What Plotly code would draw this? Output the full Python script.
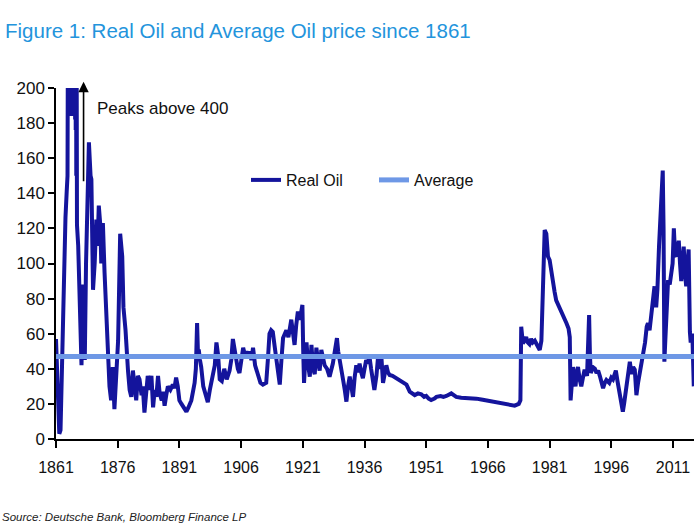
import plotly.graph_objects as go

years = [
    1861.0, 1861.4, 1861.8, 1862.1, 1862.5, 1862.7, 1863.0, 1863.3, 1863.6, 1863.8,
    1863.9, 1863.97, 1864.04, 1864.11, 1864.18, 1864.25, 1864.32, 1864.39, 1864.46, 1864.53,
    1864.6, 1864.67, 1864.74, 1864.81, 1864.88, 1864.95, 1865.02, 1865.09, 1865.16, 1865.23,
    1865.3, 1865.37, 1865.44, 1865.51, 1865.58, 1865.65, 1865.72, 1865.79, 1865.86, 1865.93,
    1866.0, 1866.1, 1866.4, 1866.7,
    1867.0, 1867.2, 1867.6, 1868.0, 1868.3, 1868.5, 1869.0, 1869.4, 1869.6, 1870.0,
    1870.4, 1870.8, 1871.1, 1871.4, 1871.8, 1872.0, 1872.4, 1872.8, 1873.2, 1873.6,
    1874.0, 1874.4, 1874.8, 1875.2, 1875.7, 1876.1, 1876.6, 1877.1, 1877.4, 1877.9,
    1878.5, 1878.9, 1879.3, 1879.7, 1880.1, 1880.5, 1880.9, 1881.3, 1881.8, 1882.1,
    1882.5, 1882.9, 1883.3, 1883.7, 1884.2, 1884.6, 1885.0, 1885.4, 1885.8, 1886.2,
    1886.7, 1887.0, 1887.4, 1887.8, 1888.2, 1888.8, 1889.4, 1889.8, 1890.2, 1890.6,
    1891.0, 1891.5, 1892.0, 1892.7, 1893.2, 1893.9, 1894.3, 1894.7, 1895.0, 1895.3,
    1895.5, 1895.7, 1896.0, 1896.3, 1896.8, 1897.4, 1897.9, 1898.4, 1899.1, 1899.6,
    1900.0, 1900.4, 1900.8, 1901.3, 1901.9, 1902.5, 1903.2, 1903.6, 1904.0, 1904.4,
    1904.8, 1905.2, 1905.6, 1906.0, 1906.5, 1906.9, 1907.3, 1907.7, 1908.1, 1908.5,
    1908.9, 1909.4, 1910.1, 1910.7, 1911.3, 1912.1, 1912.5, 1912.9, 1913.3, 1913.7,
    1914.2, 1914.6, 1915.0, 1915.4, 1915.8, 1916.2, 1917.0, 1917.5, 1918.2, 1918.6,
    1919.0, 1919.4, 1919.8, 1920.3, 1920.9, 1921.1, 1921.3, 1921.6, 1921.9, 1922.3,
    1922.7, 1923.1, 1923.5, 1923.9, 1924.3, 1924.7, 1925.1, 1925.5, 1925.9, 1926.3,
    1926.9, 1927.5, 1928.3, 1928.9, 1929.3, 1929.6, 1929.9, 1930.4, 1930.8, 1931.2,
    1931.6, 1932.0, 1932.4, 1932.8, 1933.2, 1933.6, 1934.0, 1934.4, 1934.8, 1935.2,
    1935.6, 1936.0, 1936.4, 1936.8, 1937.2, 1937.6, 1938.0, 1938.4, 1938.9, 1939.3,
    1939.6, 1940.1, 1940.5, 1940.9, 1941.3, 1941.7, 1942.1, 1942.8, 1943.7, 1944.5,
    1945.3, 1946.2, 1947.0, 1947.6, 1948.2, 1949.0, 1949.8, 1950.5, 1951.0, 1951.6,
    1952.2, 1953.0, 1953.5, 1954.5, 1955.2, 1955.9, 1956.5, 1957.1, 1957.7, 1958.3,
    1959.5, 1960.8, 1962.0, 1963.2, 1964.4, 1965.6, 1966.8, 1968.1, 1969.3, 1970.5,
    1971.5, 1972.5, 1973.5, 1973.9, 1974.1, 1974.5, 1974.9, 1975.3, 1975.7, 1976.1,
    1976.5, 1976.9, 1977.4, 1977.8, 1978.2, 1978.6, 1979.0, 1979.4, 1979.8, 1980.2,
    1980.6, 1981.0, 1981.4, 1981.8, 1982.2, 1982.6, 1983.0, 1983.4, 1983.8, 1984.2,
    1984.6, 1985.1, 1985.6, 1985.9, 1986.1, 1986.4, 1986.7, 1987.0, 1987.3, 1987.6,
    1987.9, 1988.3, 1988.7, 1989.1, 1989.5, 1990.1, 1990.4, 1990.6, 1990.8, 1991.0,
    1991.5, 1992.0, 1992.4, 1992.8, 1993.2, 1993.6, 1994.0, 1994.4, 1994.8, 1995.5,
    1996.0, 1996.4, 1997.1, 1997.5, 1998.0, 1998.4, 1998.8, 1999.1, 1999.5, 2000.0,
    2000.5, 2000.9, 2001.3, 2001.7, 2002.1, 2002.5, 2002.9, 2003.3, 2003.7, 2004.2,
    2004.6, 2004.9, 2005.3, 2005.7, 2006.1, 2006.5, 2006.9, 2007.2, 2007.6, 2008.0,
    2008.5, 2008.7, 2008.9, 2009.2, 2009.5, 2009.8, 2010.2, 2010.6, 2010.9, 2011.2,
    2011.5, 2011.8, 2012.1, 2012.4, 2012.7, 2013.0, 2013.3, 2013.6, 2013.9, 2014.2,
    2014.5, 2014.8, 2015.1, 2015.3, 2015.7, 2015.9, 2016.05,
]

real_oil = [
    57, 25, 3, 5, 50, 81, 100, 126, 141, 150,
    240, 185, 320, 190, 410, 188, 450, 192, 380, 186,
    430, 190, 350, 184, 460, 188, 400, 190, 440, 185,
    370, 188, 420, 186, 330, 182, 390, 176, 300, 150,
    240, 122, 110, 75,
    43, 42, 88, 45, 100, 126, 169, 150, 148, 85,
    100, 125, 110, 133, 121, 100, 123, 95, 73, 52,
    30, 22, 41, 17, 35, 56, 117, 104, 75, 62,
    39, 28, 24, 39, 30, 22, 36, 34, 25, 30,
    15, 28, 36, 28, 36, 18, 28, 24, 36, 26,
    22, 27, 19, 25, 30, 28, 31, 29, 35, 30,
    22, 20, 18, 15.6, 18, 22, 27, 32, 40, 66,
    50, 51, 45, 41, 30, 24, 21, 28, 37.5, 42,
    55, 48, 34, 33, 40, 34, 39, 45, 57, 50,
    45, 40, 37.6, 44, 52, 48, 50, 46, 50, 45,
    52, 42, 35.5, 32, 31, 32, 45, 60, 62, 61,
    52, 45, 36, 31, 45, 57.5, 62, 58, 68, 62,
    53.6, 65, 72.6, 68, 76.4, 50, 32, 45, 55, 42,
    35.5, 53.6, 40, 37, 52, 44, 39, 50.7, 45, 42,
    40, 35.5, 43, 50, 57.5, 50, 45, 38, 33.6, 28,
    21.3, 30, 35.5, 30, 24, 35, 42, 38, 43, 38,
    34.6, 40, 45, 43, 47, 40, 35, 28, 36, 47,
    40, 47, 32, 38, 42, 38, 36.5, 36, 34.6, 34,
    32.7, 31, 27, 26, 25, 26, 25.5, 24, 24.5, 23,
    22.2, 23, 24, 24.5, 24, 24.5, 25, 26, 25, 24,
    23.5, 23.5, 23, 23, 22.5, 22, 21.5, 20.5, 20, 19.5,
    19.5, 19, 20, 22, 64, 54.5, 56, 58, 55, 54,
    57, 55, 56, 54, 53, 50.7, 56, 85, 119, 117,
    104, 102, 95, 90.6, 84, 79, 77, 75.4, 73, 71.6,
    69, 66, 63, 58, 22, 35, 41, 33, 30, 38,
    41, 34, 30, 35, 39.5, 36, 50, 70.6, 48, 37.6,
    41, 40, 37.6, 39, 36, 32, 29, 32, 33.6, 32,
    35, 34, 39, 33, 27, 22, 15.6, 20, 28, 38,
    44, 37, 41, 39.5, 25, 32, 37, 44, 49, 55,
    64, 66, 62, 71.6, 80, 87, 75, 85, 110, 125,
    153, 120, 44, 60, 80, 90.6, 88, 94.4, 100, 120,
    105, 104, 110, 113, 100, 90, 100, 109.6, 95, 87,
    100, 108, 61, 55, 60, 45, 30,
]

average_value = 47
x_range = [1861, 2016.1]
tick_years = list(range(1861, 2012, 15))
y_ticks = list(range(0, 201, 20))

FONT = "Liberation Sans, Arial, sans-serif"

W, H = 700, 525
ML, MR, MT, MB = 56, 6, 88, 86
pw, ph = W - ML - MR, H - MT - MB


def px_x(px):
    return (px - ML) / pw


def px_y(py):
    return (H - MB - py) / ph


fig = go.Figure()
fig.add_trace(go.Scatter(
    x=years, y=real_oil, mode="lines", name="Real Oil",
    line=dict(color="#14149c", width=4),
))
fig.add_trace(go.Scatter(
    x=x_range, y=[average_value, average_value], mode="lines", name="Average",
    line=dict(color="#6e98e6", width=5),
))

fig.add_annotation(
    x=1867.7, y=203.5, xref="x", yref="y",
    ax=1867.7, ay=146, axref="x", ayref="y",
    text="", showarrow=True, arrowhead=2, arrowsize=1.3, arrowwidth=1.6,
    arrowcolor="black",
)
fig.add_annotation(
    x=1870.4, y=188.5, xref="x", yref="y", xanchor="left", yanchor="middle",
    text="Peaks above 400", showarrow=False,
    font=dict(family=FONT, size=17, color="#111111"),
)
fig.add_annotation(
    x=px_x(3), y=px_y(30), xref="paper", yref="paper", xanchor="left", yanchor="middle",
    text="Figure 1: Real Oil and Average Oil price since 1861", showarrow=False,
    font=dict(family=FONT, size=20.5, color="#2394dc"),
)
fig.add_annotation(
    x=px_x(0), y=px_y(517), xref="paper", yref="paper", xanchor="left", yanchor="middle",
    text="<i>Source: Deutsche Bank, Bloomberg Finance LP</i>", showarrow=False,
    font=dict(family=FONT, size=11.5, color="#222222"),
)

fig.update_layout(
    width=W, height=H, template="none",
    margin=dict(l=ML, r=MR, t=MT, b=MB, autoexpand=False),
    paper_bgcolor="white", plot_bgcolor="white",
    font=dict(family=FONT, size=16, color="#111111"),
    showlegend=True,
    legend=dict(
        orientation="h", x=px_x(246), y=px_y(180),
        xanchor="left", yanchor="middle",
        font=dict(family=FONT, size=16, color="#111111"),
        bgcolor="rgba(0,0,0,0)", borderwidth=0,
        entrywidth=83, entrywidthmode="pixels",
    ),
    xaxis=dict(
        range=x_range, tickmode="array", tickvals=tick_years,
        ticktext=[str(t) for t in tick_years], automargin=False,
        showline=True, linecolor="black", linewidth=2,
        ticks="outside", ticklen=7, tickwidth=1.5, tickcolor="black",
        showgrid=False, zeroline=False, ticklabelstandoff=6,
        tickfont=dict(family=FONT, size=16, color="#111111"),
    ),
    yaxis=dict(
        range=[0, 200], tickmode="array", tickvals=y_ticks, automargin=False,
        showline=True, linecolor="black", linewidth=1.5,
        ticks="outside", ticklen=6, tickwidth=1.5, tickcolor="black",
        showgrid=False, zeroline=False,
        tickfont=dict(family=FONT, size=17, color="#111111"),
    ),
)

fig.write_html(
    "out.html",
    config={"displayModeBar": False},
    post_script="document.body.style.margin='0';document.body.style.padding='0';",
)
